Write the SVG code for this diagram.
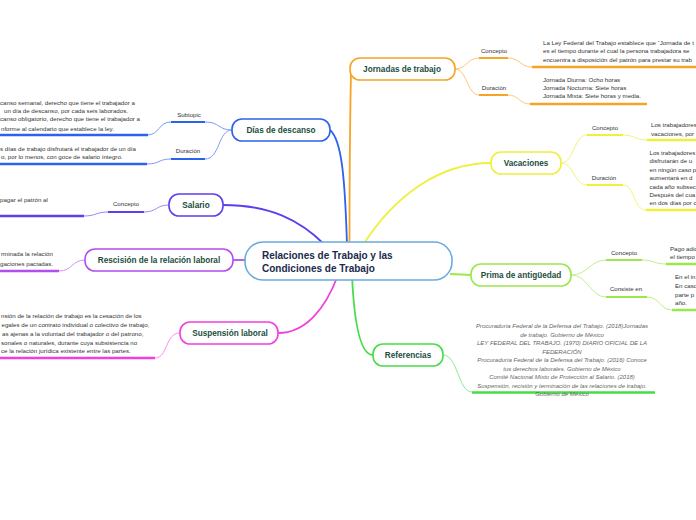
<svg xmlns="http://www.w3.org/2000/svg" width="696" height="520" viewBox="0 0 696 520">
<style>
.bg{fill:#ffffff}
.node{fill:#ffffff;stroke-width:1.6}
.nt{font-family:"Liberation Sans",Arial,sans-serif;font-size:8.2px;font-weight:bold;fill:#1b4d3e;text-anchor:middle}
.ct{font-family:"Liberation Sans",Arial,sans-serif;font-size:10px;font-weight:bold;fill:#1a2b4c}
.lb{font-family:"Liberation Sans",Arial,sans-serif;font-size:6.1px;fill:#333333;text-anchor:middle}
.tx{font-family:"Liberation Sans",Arial,sans-serif;font-size:6.15px;fill:#333333}
.rf{font-family:"Liberation Sans",Arial,sans-serif;font-size:6px;font-style:italic;fill:#666666;text-anchor:middle}
.main{fill:none;stroke-width:1.8}
.thin{fill:none;stroke-width:1}
.ul{fill:none;stroke-width:2.2}
.tul{fill:none;stroke-width:2.6}
</style>
<rect class="bg" x="0" y="0" width="696" height="520"/>
<g id="connectors">
  <path class="main" stroke="#f7a326" d="M349.5,245 C349.5,180 350,120 351,72"/>
  <path class="thin" stroke="#fbc97a" d="M455,69 C467,69 467,58 479,58 M455,69 C467,69 467,95 479,95 M508,58 C520,58 520,67 532,67 M508,95 C519,95 519,104 530,104"/>
  <path class="ul" stroke="#f7a326" d="M479,58 H508 M479,95 H508"/>
  <path class="tul" stroke="#f7a326" d="M532,67 H696 M530,104 H647"/>
  <path class="main" stroke="#2d63ea" d="M347,245 C345,180 342,140 330,130"/>
  <path class="thin" stroke="#7b9ef3" d="M232,130 C218,130 220,122 205,122 M232,130 C218,130 220,159 205,159 M171,122 C158,122 160,135 147,135 M171,159 C158,159 160,164 147,164"/>
  <path class="ul" stroke="#2d63ea" d="M171,122 H205 M171,159 H205"/>
  <path class="tul" stroke="#2d63ea" d="M0,135 H148 M0,164 H147"/>
  <path class="main" stroke="#5b3ff0" d="M325,245 C300,220 270,205 223,205"/>
  <path class="thin" stroke="#9a86f5" d="M169,205 C156,205 157,212 144,212 M108,212 C96,212 96,216 84,216"/>
  <path class="ul" stroke="#5b3ff0" d="M108,212 H144"/>
  <path class="tul" stroke="#5b3ff0" d="M0,216 H84"/>
  <path class="main" stroke="#b14ef0" d="M246,260 H232"/>
  <path class="thin" stroke="#cf92f6" d="M85,260 C72,260 72,271 59,271"/>
  <path class="tul" stroke="#b14ef0" d="M0,271 H59"/>
  <path class="main" stroke="#f23fe0" d="M338,275 C325,310 305,333 278,333"/>
  <path class="thin" stroke="#f68eec" d="M180,333 C165,333 168,358 155,358"/>
  <path class="tul" stroke="#f23fe0" d="M0,358 H155"/>
  <path class="main" stroke="#eef03c" d="M363,245 C395,195 440,163 491,163"/>
  <path class="thin" stroke="#f3f57a" d="M561,163 C574,163 574,135 587,135 M561,163 C574,163 574,185 587,185 M623,135 C635,135 635,140 647,140 M623,185 C635,185 633,210 646,210"/>
  <path class="ul" stroke="#eef03c" d="M587,135 H623 M587,185 H623"/>
  <path class="tul" stroke="#eef03c" d="M647,140 H696 M646,210 H696"/>
  <path class="main" stroke="#9ae84b" d="M450,274 C460,274 462,275 471,275"/>
  <path class="thin" stroke="#c0f08c" d="M571,275 C588,275 590,260 606,260 M571,275 C588,275 590,297 606,297 M642,260 C654,260 654,264 666,264 M647,297 C660,297 660,310 672,310"/>
  <path class="ul" stroke="#9ae84b" d="M606,260 H642 M606,297 H647"/>
  <path class="tul" stroke="#9ae84b" d="M666,264 H696 M672,310 H696"/>
  <path class="main" stroke="#46dd46" d="M352,275 C354,320 360,355 373,355"/>
  <path class="thin" stroke="#8ee88e" d="M443,355 C458,355 458,392 472,392"/>
  <path class="tul" stroke="#46dd46" d="M472,392.5 H655"/>
</g>

<g id="central">
  <rect class="node" x="245" y="242" width="207" height="38" rx="18" stroke="#6aaae0"/>
  <text class="ct" x="262" y="258.5">Relaciones de Trabajo y las</text>
  <text class="ct" x="262" y="271.5">Condiciones de Trabajo</text>
</g>

<g id="jornadas">
  <rect class="node" x="350" y="58" width="105" height="22" rx="10" stroke="#f7a326"/>
  <text class="nt" x="402" y="72">Jornadas de trabajo</text>
</g>
<g id="jornadas-concepto">
  <text class="lb" x="494" y="53">Concepto</text>
  <text class="tx" x="543" y="44.5">La Ley Federal del Trabajo establece que “Jornada de t</text>
  <text class="tx" x="543" y="53">es el tiempo durante el cual la persona trabajadora se</text>
  <text class="tx" x="543" y="61.5">encuentra a disposición del patrón para prestar su trab</text>
</g>
<g id="jornadas-duracion">
  <text class="lb" x="494" y="89.5">Duración</text>
  <text class="tx" x="543" y="81.5">Jornada Diurna: Ocho horas</text>
  <text class="tx" x="543" y="89.5">Jornada Nocturna: Siete horas</text>
  <text class="tx" x="543" y="98">Jornada Mixta: Siete horas y media.</text>
</g>

<g id="dias-descanso">
  <rect class="node" x="232" y="119" width="98" height="22" rx="10" stroke="#2d63ea"/>
  <text class="nt" x="281" y="133">Días de descanso</text>
</g>
<g id="dias-subtopic">
  <text class="lb" x="189" y="116.5">Subtopic</text>
  <text class="tx" x="0" y="104.5">canso semanal, derecho que tiene el trabajador a</text>
  <text class="tx" x="4" y="113">un día de descanso, por cada seis laborados.</text>
  <text class="tx" x="0" y="121.3">canso obligatorio, derecho que tiene el trabajador a</text>
  <text class="tx" x="1" y="130.5">nforme al calendario que establece la ley.</text>
</g>
<g id="dias-duracion">
  <text class="lb" x="188" y="153">Duración</text>
  <text class="tx" x="0" y="150.5">s días de trabajo disfrutará el trabajador de un día</text>
  <text class="tx" x="1" y="158.5">o, por lo menos, con goce de salario íntegro.</text>
</g>

<g id="salario">
  <rect class="node" x="169" y="194" width="54" height="22" rx="10" stroke="#5b3ff0"/>
  <text class="nt" x="196" y="208">Salario</text>
</g>
<g id="salario-concepto">
  <text class="lb" x="126" y="206">Concepto</text>
  <text class="tx" x="0" y="202">pagar el patrón al</text>
</g>

<g id="rescision">
  <rect class="node" x="85" y="249" width="148" height="22" rx="10" stroke="#b14ef0"/>
  <text class="nt" x="159" y="263">Rescisión de la relación laboral</text>
</g>
<g id="rescision-texto">
  <text class="tx" x="1" y="256">rminada la relación</text>
  <text class="tx" x="0" y="265.5">gaciones pactadas.</text>
</g>

<g id="suspension">
  <rect class="node" x="180" y="322" width="98" height="22" rx="10" stroke="#f23fe0"/>
  <text class="nt" x="230" y="336">Suspensión laboral</text>
</g>
<g id="suspension-texto">
  <text class="tx" x="1" y="318">nsión de la relación de trabajo es la cesación de los</text>
  <text class="tx" x="1.5" y="326.5">egales de un contrato individual o colectivo de trabajo,</text>
  <text class="tx" x="2" y="335.5">as ajenas a la voluntad del trabajador o del patrono,</text>
  <text class="tx" x="1" y="344.5">sonales o naturales, durante cuya subsistencia no</text>
  <text class="tx" x="1" y="353">ce la relación jurídica existente entre las partes.</text>
</g>

<g id="vacaciones">
  <rect class="node" x="491" y="152" width="70" height="22" rx="10" stroke="#eef03c"/>
  <text class="nt" x="526" y="166">Vacaciones</text>
</g>
<g id="vacaciones-concepto">
  <text class="lb" x="605" y="129.5">Concepto</text>
  <text class="tx" x="651" y="126.5">Los trabajadores</text>
  <text class="tx" x="651" y="135.5">vacaciones, por</text>
</g>
<g id="vacaciones-duracion">
  <text class="lb" x="604" y="180">Duración</text>
  <text class="tx" x="649.5" y="155">Los trabajadores</text>
  <text class="tx" x="649.5" y="163.4">disfrutarán de u</text>
  <text class="tx" x="649.5" y="171.8">en ningún caso p</text>
  <text class="tx" x="649.5" y="180.2">aumentará en d</text>
  <text class="tx" x="649.5" y="188.6">cada año subsec</text>
  <text class="tx" x="649.5" y="197">Después del cua</text>
  <text class="tx" x="649.5" y="205.4">en dos días por c</text>
</g>

<g id="prima">
  <rect class="node" x="471" y="264" width="100" height="22" rx="10" stroke="#9ae84b"/>
  <text class="nt" x="521" y="278">Prima de antigüedad</text>
</g>
<g id="prima-concepto">
  <text class="lb" x="624" y="254.5">Concepto</text>
  <text class="tx" x="670" y="251">Pago adic</text>
  <text class="tx" x="670" y="259">el tiempo</text>
</g>
<g id="prima-consiste">
  <text class="lb" x="626" y="291">Consiste en</text>
  <text class="tx" x="675" y="279">En el in</text>
  <text class="tx" x="675" y="288">En caso</text>
  <text class="tx" x="675" y="296.5">parte p</text>
  <text class="tx" x="675" y="305">año.</text>
</g>

<g id="referencias">
  <rect class="node" x="373" y="344" width="70" height="22" rx="10" stroke="#46dd46"/>
  <text class="nt" x="408" y="358">Referencias</text>
</g>
<g id="referencias-texto">
  <text class="rf" x="562" y="328">Procuraduría Federal de la Defensa del Trabajo. (2018)Jornadas</text>
  <text class="rf" x="562" y="336.5">de trabajo. Gobierno de México</text>
  <text class="rf" x="562" y="345">LEY FEDERAL DEL TRABAJO. (1970) DIARIO OFICIAL DE LA</text>
  <text class="rf" x="562" y="353.5">FEDERACIÓN</text>
  <text class="rf" x="562" y="362">Procuraduría Federal de la Defensa del Trabajo. (2016) Conoce</text>
  <text class="rf" x="562" y="370.5">tus derechos laborales. Gobierno de México</text>
  <text class="rf" x="562" y="379">Comité Nacional Mixto de Protección al Salario. (2018)</text>
  <text class="rf" x="562" y="387.5">Suspensión, recisión y terminación de las relaciones de trabajo.</text>
  <text class="rf" x="562" y="396">Gobierno de México</text>
</g>
</svg>
